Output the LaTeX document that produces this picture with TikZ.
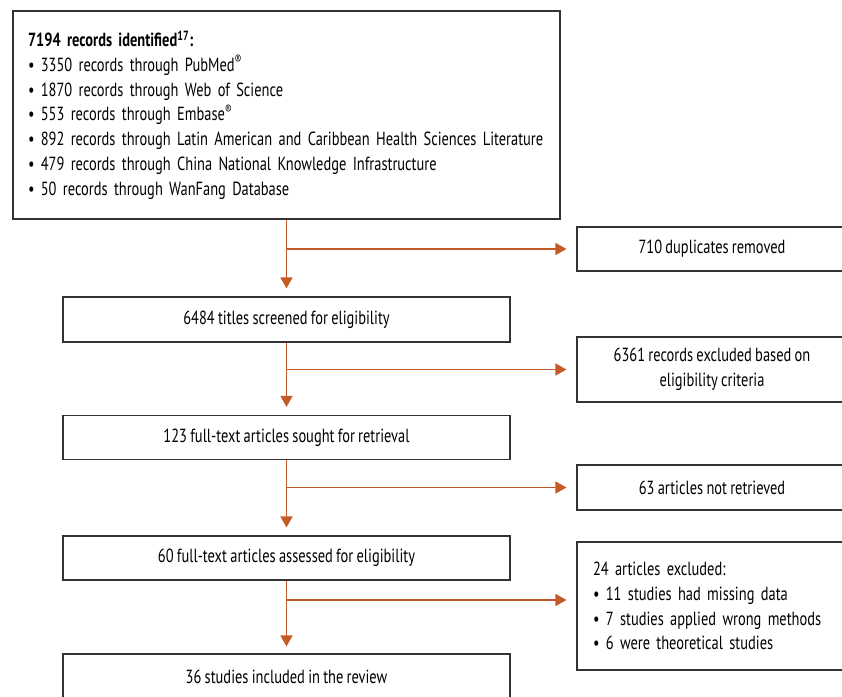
\documentclass[tikz,border=0pt]{standalone}
\usepackage{fontspec}
\setmainfont[FakeStretch=0.76, WordSpace=0.85]{PT Sans}
\usetikzlibrary{positioning,arrows.meta}
\definecolor{flowbrown}{RGB}{196,90,38}

\begin{document}
\begin{tikzpicture}[
    x=1pt, y=-1pt,
    every node/.style={
        draw=black!80,
        line width=1.1pt,
        inner sep=0pt,
        font=\fontsize{19}{24.8}\selectfont
    },
    flow/.style={
        draw=flowbrown,
        line width=1.3pt,
        -{Triangle[length=11pt,width=12pt]}
    }
]
\useasboundingbox (0,0) rectangle (842,696);

% main column
\node[minimum width=547pt, minimum height=208pt, text width=517pt, align=left] (ident) at (286.5,115) {%
    \textbf{7194 records identified\textsuperscript{17}:}\\
    \textbullet\ 3350 records through PubMed\textsuperscript{\textregistered}\\
    \textbullet\ 1870 records through Web of Science\\
    \textbullet\ 553 records through Embase\textsuperscript{\textregistered}\\
    \textbullet\ 892 records through Latin American and Caribbean Health Sciences Literature\\
    \textbullet\ 479 records through China National Knowledge Infrastructure\\
    \textbullet\ 50 records through WanFang Database};

\node[minimum width=447pt, minimum height=45pt] (screen) at (286.5,319.5) {6484 titles screened for eligibility};
\node[minimum width=447pt, minimum height=44pt] (sought) at (286.5,437.5) {123 full-text articles sought for retrieval};
\node[minimum width=447pt, minimum height=44pt] (assessed) at (286.5,558) {60 full-text articles assessed for eligibility};
\node[minimum width=447pt, minimum height=45pt] (included) at (286.5,676.5) {36 studies included in the review};

% side column
\node[minimum width=270pt, minimum height=44pt] (dup) at (712,249) {710 duplicates removed};
\node[minimum width=270pt, minimum height=65pt, align=center] (excl) at (712,369.5) {6361 records excluded based on\\eligibility criteria};
\node[minimum width=270pt, minimum height=45pt] (notret) at (712,487.5) {63 articles not retrieved};
\node[minimum width=270pt, minimum height=128pt, text width=238pt, align=left] (artexcl) at (712,606) {%
    24 articles excluded:\\
    \textbullet\ 11 studies had missing data\\
    \textbullet\ 7 studies applied wrong methods\\
    \textbullet\ 6 were theoretical studies};

% arrows
\draw[flow, shorten >=8pt] (ident.south) -- (screen.north);
\draw[flow, shorten >=8pt] (screen.south) -- (sought.north);
\draw[flow, shorten >=8pt] (sought.south) -- (assessed.north);
\draw[flow, shorten >=7pt] (assessed.south) -- (included.north);

\draw[flow, shorten >=10pt] (ident.south |- dup.west) -- (dup.west);
\draw[flow, shorten >=10pt] (screen.south |- excl.west) -- (excl.west);
\draw[flow, shorten >=10pt] (sought.south |- notret.west) -- (notret.west);
\draw[flow, shorten >=10pt] (assessed.south |- 0,600) -- (artexcl.west |- 0,600);

\end{tikzpicture}
\end{document}
